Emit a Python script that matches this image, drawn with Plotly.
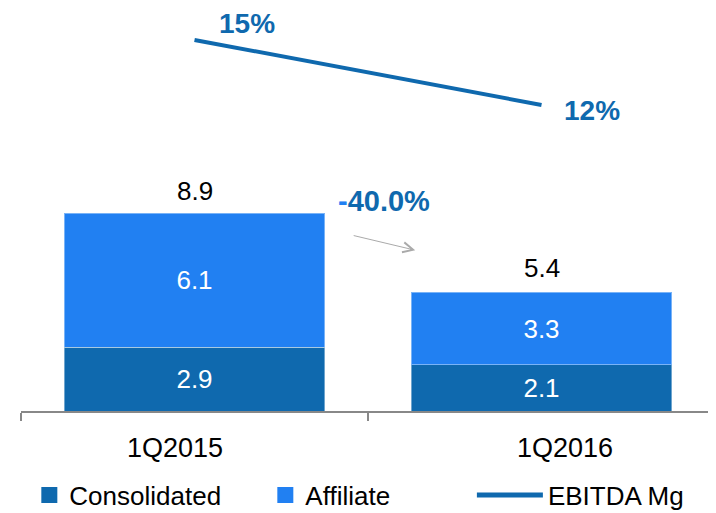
import plotly.graph_objects as go

# Data
quarters = ['1Q2015', '1Q2016']
consolidated = [2.9, 2.1]
affiliate = [6.1, 3.3]
totals = [8.9, 5.4]
ebitda_mg = [15, 12]
ebitda_labels = ['15%', '12%']
change_label = '-40.0%'

DARK = '#0f69ae'
LIGHT = '#2180f2'
FONT = 'Arial, Liberation Sans, sans-serif'

fig = go.Figure()

fig.add_trace(go.Bar(
    x=quarters, y=consolidated, name='Consolidated',
    marker=dict(color=DARK, line=dict(color='rgba(255,255,255,0.4)', width=1)),
    text=[f'{v:.1f}' for v in consolidated], textposition='inside',
    insidetextanchor='middle', textfont=dict(color='white', size=26),
    showlegend=False
))
fig.add_trace(go.Bar(
    x=quarters, y=affiliate, name='Affiliate',
    marker=dict(color=LIGHT, line=dict(color='rgba(255,255,255,0.4)', width=1)),
    text=[f'{v:.1f}' for v in affiliate], textposition='inside',
    insidetextanchor='middle', textfont=dict(color='white', size=26),
    showlegend=False
))
fig.add_trace(go.Scatter(
    x=quarters, y=ebitda_mg, name='EBITDA Mg', yaxis='y2',
    mode='lines', line=dict(color=DARK, width=4), showlegend=False
))

# legend entries (bigger square symbols than the bar default)
fig.add_trace(go.Scatter(x=[None], y=[None], mode='markers', name='Consolidated',
                         marker=dict(symbol='square', size=18, color=DARK)))
fig.add_trace(go.Scatter(x=[None], y=[None], mode='markers', name='Affiliate',
                         marker=dict(symbol='square', size=18, color=LIGHT)))
fig.add_trace(go.Scatter(x=[None], y=[None], mode='lines', name='EBITDA Mg',
                         line=dict(color=DARK, width=5), legend='legend2'))

annotations = []
for q, t in zip(quarters, totals):
    annotations.append(dict(x=q, y=t, xref='x', yref='y', text=f'{t:.1f}',
                            showarrow=False, yanchor='bottom', yshift=7,
                            font=dict(size=26, color='black')))

# category labels sit a little apart from the bar centres
label_shifts = [-20, 23]
for q, dx in zip(quarters, label_shifts):
    annotations.append(dict(x=q, y=0, xref='x', yref='y', text=q,
                            showarrow=False, yanchor='top', yshift=-20, xshift=dx,
                            font=dict(size=27, color='black')))

shifts = [(52, 16), (50, -6)]
for q, v, lab, (dx, dy) in zip(quarters, ebitda_mg, ebitda_labels, shifts):
    annotations.append(dict(x=q, y=v, xref='x', yref='y2', text=f'<b>{lab}</b>',
                            showarrow=False, xshift=dx, yshift=dy,
                            font=dict(size=28, color=DARK)))

annotations.append(dict(
    x=0.523, y=0.523, xref='paper', yref='paper', showarrow=False,
    text=f'<b><span style="color:{LIGHT}">{change_label[0]}</span>{change_label[1:]}</b>',
    font=dict(size=29, color=DARK)
))
annotations.append(dict(
    x=0.568, y=0.401, xref='paper', yref='paper', text='',
    showarrow=True, ax=-63, ay=-15, arrowhead=5, arrowsize=2,
    arrowwidth=1, arrowcolor='#aaaaaa'
))

# margins offset for the 8px page margin around the plot div
fig.update_layout(
    barmode='stack',
    bargap=0.25,
    width=716, height=513,
    margin=dict(l=13, r=9, t=2, b=110),
    plot_bgcolor='white', paper_bgcolor='white',
    font=dict(family=FONT, size=26, color='black'),
    xaxis=dict(
        showline=True, linecolor='#888888', linewidth=1.5,
        ticks='outside', tickson='boundaries', ticklen=8,
        tickcolor='#888888', tickwidth=1.5, automargin=False,
        showticklabels=False,
    ),
    yaxis=dict(range=[0, 18.23], visible=False),
    yaxis2=dict(range=[-2.12, 16.38], overlaying='y', visible=False),
    legend=dict(
        orientation='h', x=0.012, xanchor='left', y=-0.21, yanchor='middle',
        entrywidth=191, entrywidthmode='pixels',
        font=dict(size=26, color='black'), traceorder='normal'
    ),
    legend2=dict(
        orientation='h', x=0.6497, xanchor='left', y=-0.21, yanchor='middle',
        itemwidth=66, font=dict(size=26, color='black')
    ),
    annotations=annotations,
)

fig.write_html('out.html')
